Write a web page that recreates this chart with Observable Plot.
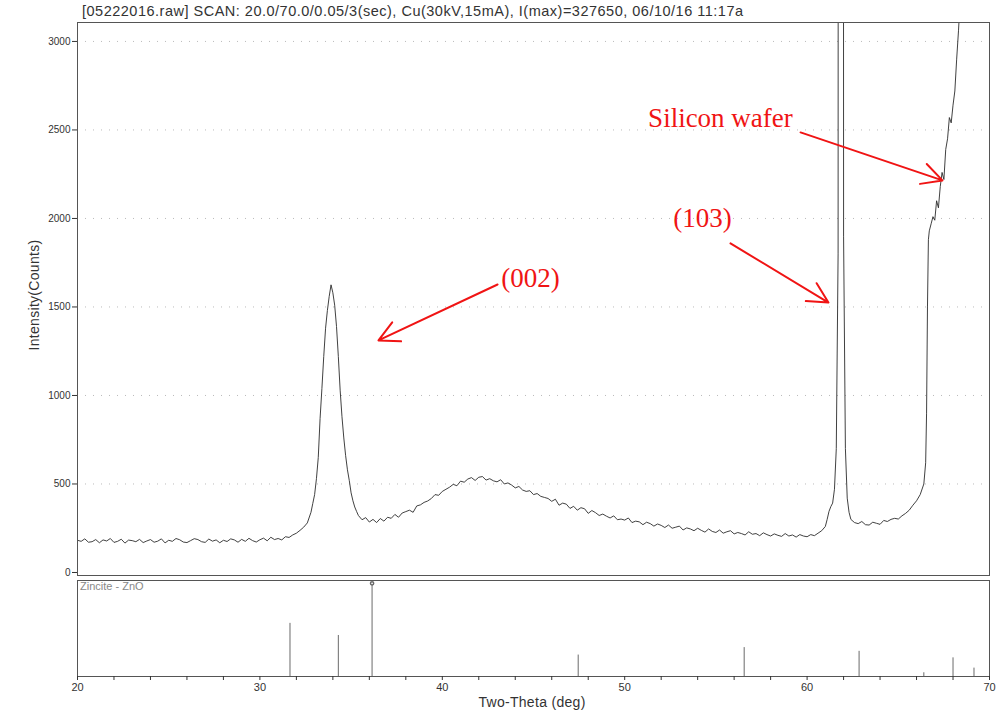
<!DOCTYPE html>
<html>
<head>
<meta charset="utf-8">
<script src="https://cdn.jsdelivr.net/npm/d3@7"></script>
<script src="https://cdn.jsdelivr.net/npm/@observablehq/plot@0.6"></script>
<style>
  html, body { margin: 0; padding: 0; background: white; }
  #wrap { position: relative; width: 996px; height: 719px; overflow: hidden; font-family: "Liberation Sans", Arial, sans-serif; }
  .abs { position: absolute; white-space: nowrap; }
</style>
</head>
<body>
<div id="wrap"></div>
<script>
// ---- Scan data (two-theta in degrees, intensity in counts) ----
const twoTheta = [
  20.0,20.2,20.4,20.6,20.8,21.0,21.2,21.4,21.6,21.8,22.0,22.2,22.4,22.6,22.8,23.0,23.2,23.4,23.6,23.8,
  24.0,24.2,24.4,24.6,24.8,25.0,25.2,25.4,25.6,25.8,26.0,26.2,26.4,26.6,26.8,27.0,27.2,27.4,27.6,27.8,
  28.0,28.2,28.4,28.6,28.8,29.0,29.2,29.4,29.6,29.8,30.0,30.2,30.4,30.6,30.8,31.0,31.2,31.4,31.6,31.8,
  32.0,32.2,32.4,32.6,32.8,32.9,33.0,33.1,33.2,33.3,33.4,33.5,33.6,33.7,33.8,33.9,34.0,34.1,34.2,34.3,
  34.4,34.5,34.6,34.7,34.8,34.9,35.0,35.1,35.2,35.3,35.4,35.6,35.8,36.0,36.2,36.4,36.6,36.8,37.0,37.2,
  37.4,37.6,37.8,38.0,38.2,38.4,38.6,38.8,39.0,39.2,39.4,39.6,39.8,40.0,40.2,40.4,40.6,40.8,41.0,41.2,
  41.4,41.6,41.8,42.0,42.2,42.4,42.6,42.8,43.0,43.2,43.4,43.6,43.8,44.0,44.2,44.4,44.6,44.8,45.0,45.2,
  45.4,45.6,45.8,46.0,46.2,46.4,46.6,46.8,47.0,47.2,47.4,47.6,47.8,48.0,48.2,48.4,48.6,48.8,49.0,49.2,
  49.4,49.6,49.8,50.0,50.2,50.4,50.6,50.8,51.0,51.2,51.4,51.6,51.8,52.0,52.2,52.4,52.6,52.8,53.0,53.2,
  53.4,53.6,53.8,54.0,54.2,54.4,54.6,54.8,55.0,55.2,55.4,55.6,55.8,56.0,56.2,56.4,56.6,56.8,57.0,57.2,
  57.4,57.6,57.8,58.0,58.2,58.4,58.6,58.8,59.0,59.2,59.4,59.6,59.8,60.0,60.2,60.4,60.6,60.8,61.0,61.1,
  61.2,61.3,61.4,61.5,61.6,61.7,61.8,61.9,62.0,62.1,62.2,62.3,62.4,62.6,62.8,63.0,63.2,63.4,63.6,63.8,
  64.0,64.2,64.4,64.6,64.8,65.0,65.2,65.4,65.6,65.8,66.0,66.2,66.4,66.5,66.55,66.6,66.65,66.7,66.8,66.9,
  67.0,67.1,67.2,67.3,67.4,67.5,67.6,67.7,67.8,67.9,68.0,68.1,68.2,68.3,68.4,68.6
];
const counts = [
  182,176,190,171,174,186,168,184,178,192,170,176,188,166,183,180,174,187,169,178,
  186,171,177,190,167,182,176,192,185,172,169,180,191,186,174,170,189,177,184,168,
  182,175,190,184,171,187,176,193,180,172,185,194,179,199,186,192,184,202,198,212,
  222,238,256,280,340,390,440,530,650,870,1040,1220,1380,1480,1560,1625,1580,1510,1390,1220,
  1030,880,760,660,580,520,450,405,370,345,322,298,310,285,300,282,305,290,312,306,
  328,312,336,344,352,340,376,382,396,404,418,440,436,458,470,482,498,490,516,510,
  528,536,520,538,542,522,530,518,512,524,500,506,494,478,486,466,458,462,440,446,
  430,424,418,402,414,380,392,386,362,374,352,366,360,334,350,338,322,330,318,308,
  320,298,302,296,308,282,290,286,270,284,276,262,274,266,254,268,250,256,262,240,
  252,246,236,250,238,228,246,232,226,240,222,230,236,218,226,220,212,230,216,220,
  208,224,214,206,218,210,204,220,206,212,200,214,206,202,214,208,222,236,260,300,
  345,372,392,470,700,1800,40000,40000,1900,700,420,340,300,282,276,288,270,268,284,278,
  272,294,288,300,306,302,320,334,352,380,405,440,500,620,900,1500,1880,1930,1970,2010,
  1990,2100,2060,2180,2260,2220,2390,2450,2570,2540,2640,2720,2900,3060,3250,4200
];

// ---- Reference pattern: Zincite - ZnO (stick positions and relative intensity) ----
const refTheta = [31.65, 34.3, 36.15, 47.45, 56.55, 62.85, 66.4, 68.0, 69.15];
const refIntensity = [57, 44, 100, 23, 31, 27, 4, 20, 9];

// ---- Axis ticks ----
const yTicks = [0, 500, 1000, 1500, 2000, 2500, 3000];
const xTicks = d3.range(20, 71, 2);
const xLabelTicks = [20, 30, 40, 50, 60, 70];

// ---- Annotations ----
const annotLabel = ["(002)", "(103)", "Silicon wafer"];
const annotX = [44.84, 54.26, 55.25];
const annotY = [1661, 2000, 2565];
const arrowX1 = [43.03, 55.80, 59.64];
const arrowY1 = [1627, 1859, 2486];
const arrowX2 = [36.50, 61.17, 67.42];
const arrowY2 = [1311, 1525, 2215];

const titleText = "[05222016.raw] SCAN: 20.0/70.0/0.05/3(sec), Cu(30kV,15mA), I(max)=327650, 06/10/16 11:17a";

// ---- Build tables ----
const scan = twoTheta.map((t, i) => ({t, c: counts[i]}));
const refs = refTheta.map((t, i) => ({t, h: refIntensity[i]}));
const annots = annotLabel.map((label, i) => ({
  label, x: annotX[i], y: annotY[i], x1: arrowX1[i], y1: arrowY1[i], x2: arrowX2[i], y2: arrowY2[i]
}));

const W = 996;
const ML = 77, MR = 7;
const wrap = document.getElementById("wrap");

const main = Plot.plot({
  width: W,
  height: 578,
  marginLeft: ML,
  marginRight: MR,
  marginTop: 22,
  marginBottom: 3,
  style: {background: "transparent", fontFamily: "Liberation Sans, Arial, sans-serif", fontSize: "10px", color: "#333"},
  x: {domain: [20, 70], axis: null},
  y: {domain: [-17, 3107], axis: null},
  marks: [
    Plot.ruleY(yTicks.filter(d => d > 0), {stroke: "#bbb", strokeDasharray: "1,7", strokeWidth: 1}),
    Plot.line(scan, {x: "t", y: "c", stroke: "#2b2b2b", strokeWidth: 0.9, clip: true}),
    Plot.frame({stroke: "#555", strokeWidth: 1}),
    Plot.axisY({ticks: yTicks, tickFormat: d => String(d), tickSize: 5, tickPadding: 2, label: null, fontSize: 10}),
    Plot.arrow(annots, {x1: "x1", y1: "y1", x2: "x2", y2: "y2", stroke: "#f01414", strokeWidth: 2, headLength: 17, headAngle: 55}),
    Plot.text(annots, {x: "x", y: "y", text: "label", fill: "#f01414", fontSize: 27, fontFamily: "Liberation Serif, Times New Roman, serif"})
  ]
});
main.style.position = "absolute";
main.style.left = "0px";
main.style.top = "0px";
wrap.appendChild(main);

const ref = Plot.plot({
  width: W,
  height: 140,
  marginLeft: ML,
  marginRight: MR,
  marginTop: 1,
  marginBottom: 43,
  style: {background: "transparent", fontFamily: "Liberation Sans, Arial, sans-serif", fontSize: "11px", color: "#333"},
  x: {domain: [20, 70]},
  y: {domain: [0, 103], axis: null},
  marks: [
    Plot.ruleX(refs, {x: "t", y1: 0, y2: "h", stroke: "#6a6a6a", strokeWidth: 1}),
    Plot.dot(refs.filter(d => d.h === 100), {x: "t", y: "h", r: 1.6, stroke: "#6a6a6a", fill: "white"}),
    Plot.frame({stroke: "#555", strokeWidth: 1}),
    Plot.axisX({ticks: xTicks, tickFormat: d => xLabelTicks.includes(d) ? String(d) : "", tickSize: 4, tickPadding: 3, label: null, fontSize: 11})
  ]
});
ref.style.position = "absolute";
ref.style.left = "0px";
ref.style.top = "579px";
wrap.appendChild(ref);

function addText(txt, css) {
  const d = document.createElement("div");
  d.className = "abs";
  d.textContent = txt;
  Object.assign(d.style, css);
  wrap.appendChild(d);
  return d;
}
addText(titleText, {left: "82px", top: "3px", fontSize: "14.5px", letterSpacing: "0.5px", color: "#333"});
addText("Intensity(Counts)", {left: "-65px", top: "286px", width: "200px", textAlign: "center", fontSize: "14px", letterSpacing: "0.3px", color: "#333", transform: "rotate(-90deg)", transformOrigin: "100px 9px"});
addText("Two-Theta (deg)", {left: "432px", top: "694px", width: "200px", textAlign: "center", fontSize: "14px", letterSpacing: "0.3px", color: "#333"});
addText("Zincite - ZnO", {left: "80px", top: "580px", fontSize: "11px", color: "#888"});
</script>
</body>
</html>
